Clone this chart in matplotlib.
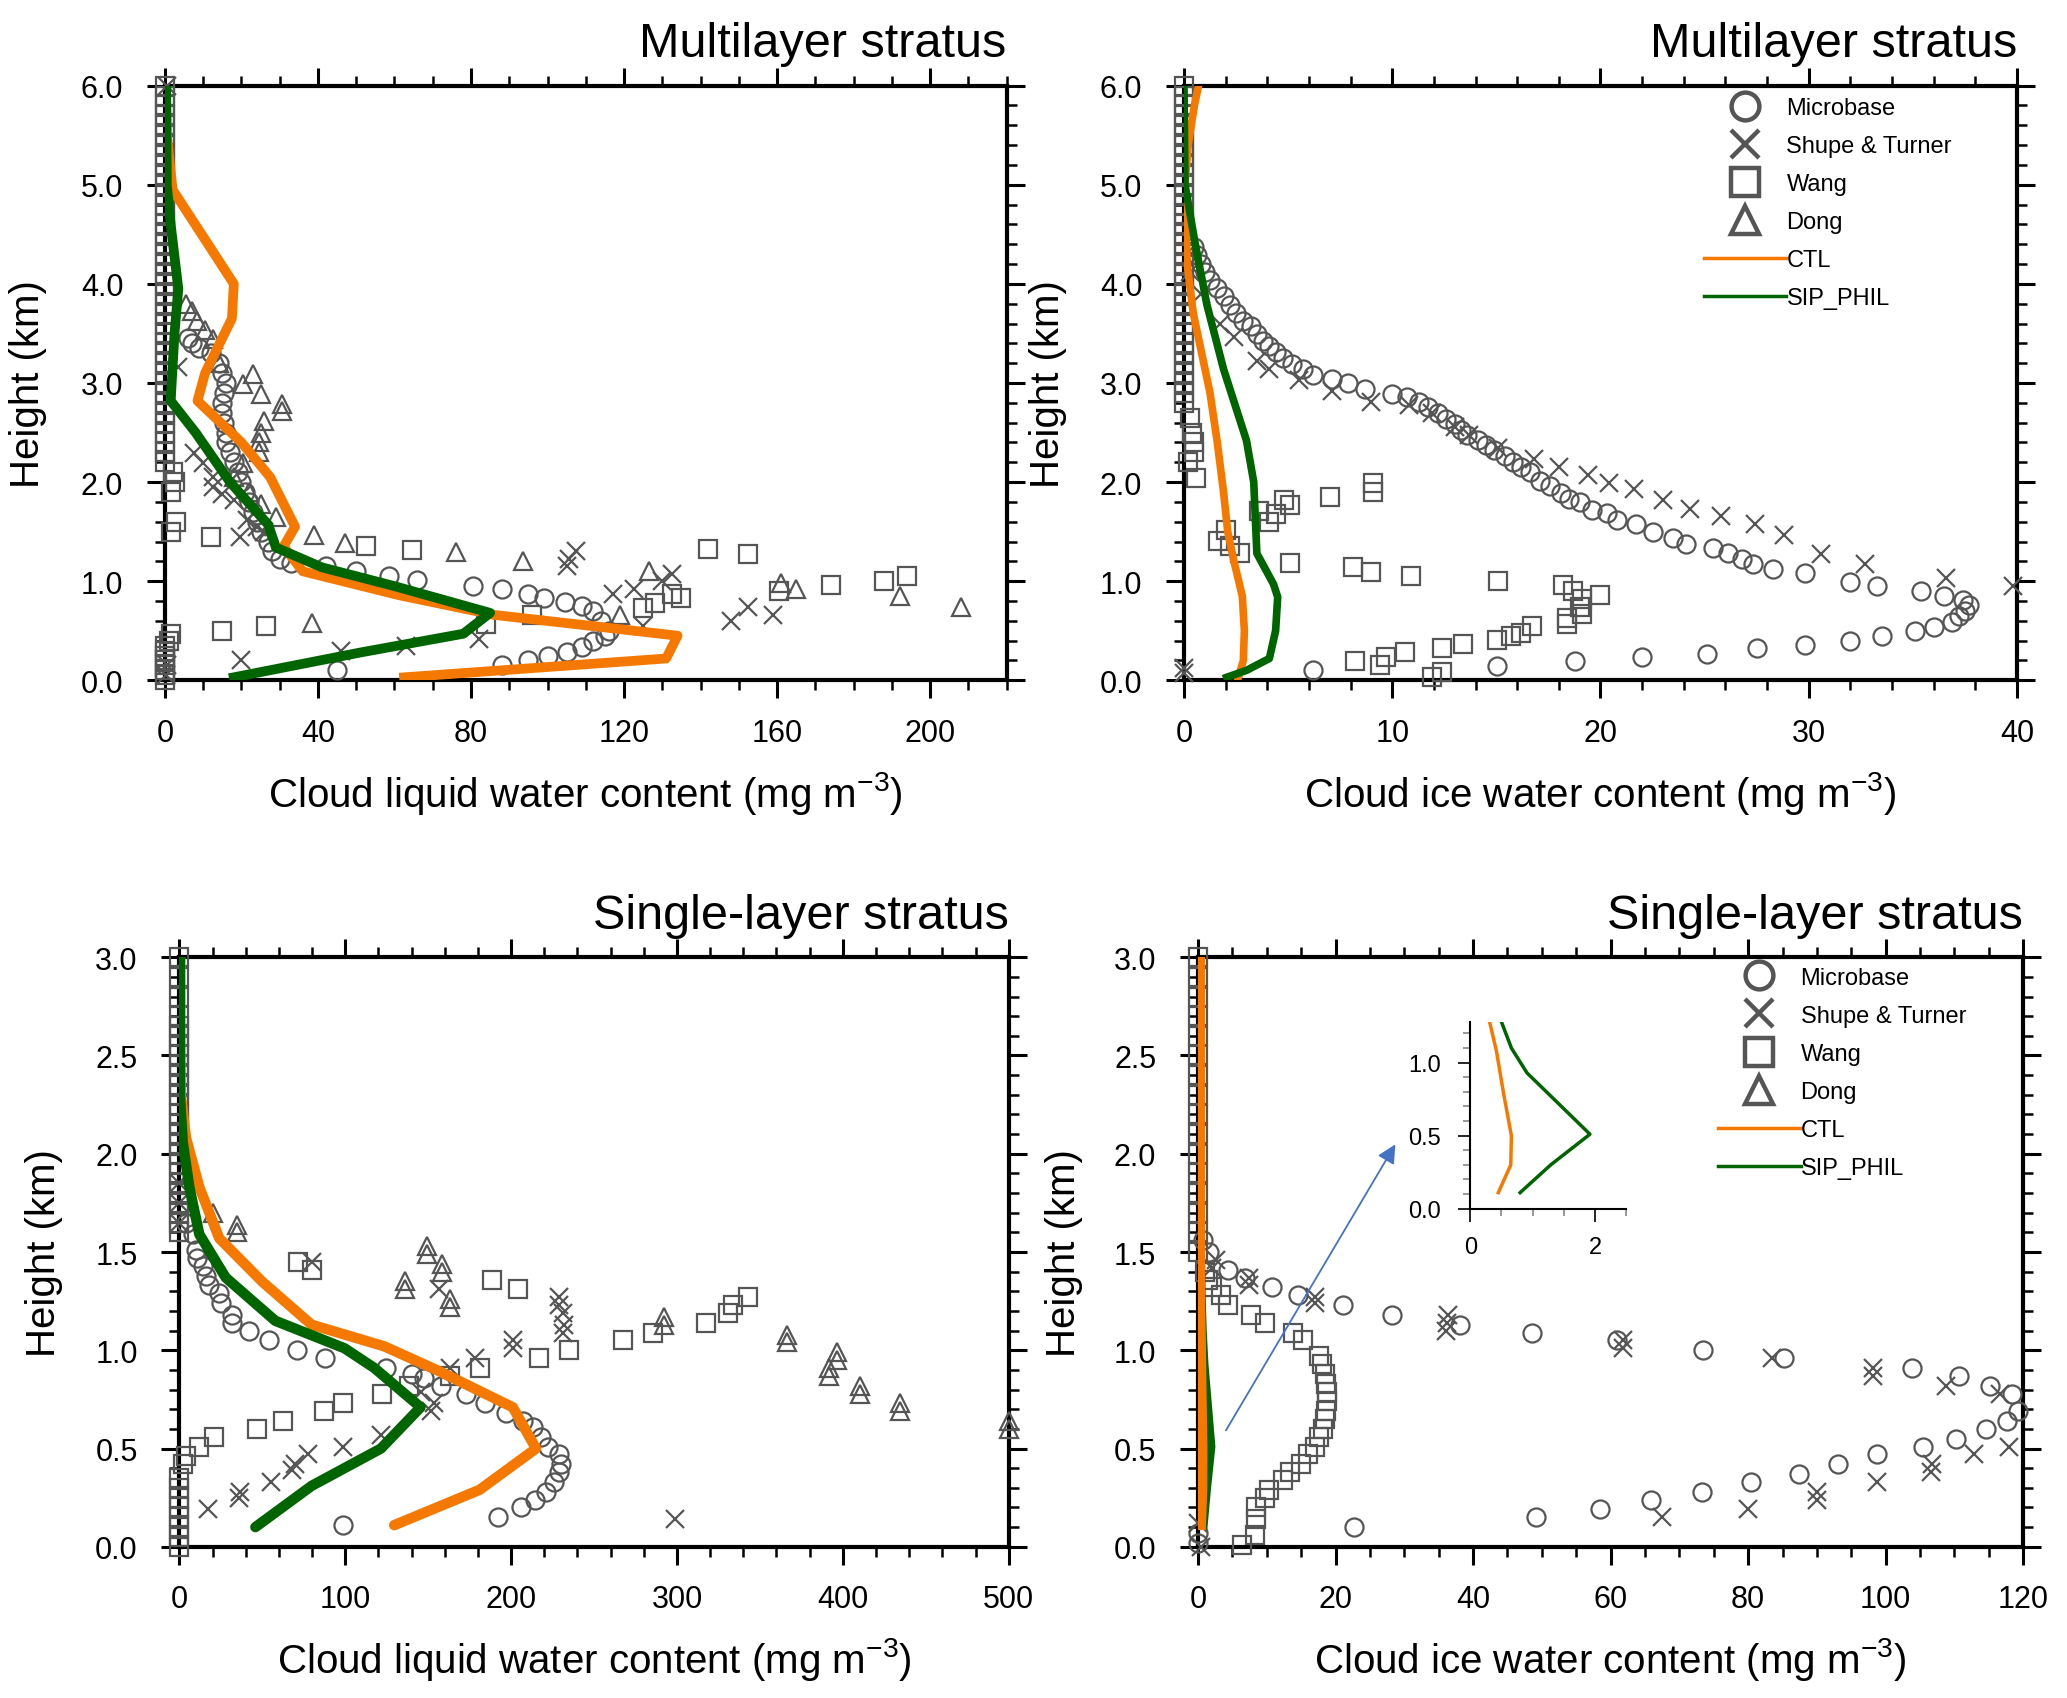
import numpy as np
import matplotlib
matplotlib.use('Agg')
import matplotlib.pyplot as plt
from matplotlib.ticker import MultipleLocator, FormatStrFormatter
from matplotlib.lines import Line2D

plt.rcParams['font.family'] = ['Liberation Sans', 'DejaVu Sans']
plt.rcParams['mathtext.default'] = 'regular'

GRAY = '#555555'
ORANGE = '#F57900'
GREEN = '#006400'
BLUE = '#4472C4'

########################## Multilayer, liquid ##########################
tl_ctl_x = [62.5, 131, 134, 86, 61, 36, 31, 34, 27.5, 20, 8.5, 10.5, 17.5, 18, 2, 0.5, 0.3]
tl_ctl_z = [0.03, 0.22, 0.45, 0.66, 0.86, 1.1, 1.35, 1.55, 2.05, 2.4, 2.82, 3.1, 3.65, 4.0, 4.95, 5.5, 6.0]
tl_sip_x = [18, 51, 78, 85, 60, 41, 29, 27, 17, 8, 1.5, 2.5, 3.5, 1.5, 0.5, 0.3]
tl_sip_z = [0.03, 0.28, 0.47, 0.68, 0.95, 1.14, 1.34, 1.57, 2.0, 2.5, 2.82, 3.5, 3.95, 4.6, 5.0, 6.0]

tl_circ_x = [45, 88, 95, 100, 105, 109, 112, 115, 116, 114, 112, 109, 104.5, 99, 95, 88, 80.5,
             66, 58.5, 50, 42, 33, 30, 28, 27, 25, 24, 23, 22, 21, 20, 19, 18, 17, 16, 16,
             15.5, 15, 15, 15.5, 16, 15, 14, 12, 9, 7, 6]
tl_circ_z = [0.1, 0.15, 0.2, 0.25, 0.29, 0.34, 0.4, 0.45, 0.5, 0.6, 0.7, 0.75, 0.79, 0.83, 0.87,
             0.92, 0.95, 1.01, 1.05, 1.1, 1.15, 1.18, 1.22, 1.3, 1.4, 1.5, 1.6, 1.7, 1.8, 1.9, 2.0,
             2.1, 2.2, 2.3, 2.4, 2.5, 2.6, 2.7, 2.8, 2.9, 3.0, 3.1, 3.2, 3.3, 3.35, 3.4, 3.45]
tl_shupe_x = [0.5, 0.3, 0.5, 3.5, 7.5, 10, 12.5, 12.5, 15, 18, 19.5, 21.5, 24, 26, 105, 105.5,
              107.5, 117, 122.5, 130, 132.5, 125, 148, 152.5, 159, 82, 63, 46, 20]
tl_shupe_z = [6.0, 0.05, 0.15, 3.16, 2.29, 2.19, 2.05, 1.95, 1.88, 1.82, 1.45, 1.62, 1.55, 1.5,
              1.15, 1.22, 1.3, 0.87, 0.92, 1.0, 1.07, 0.55, 0.6, 0.74, 0.66, 0.42, 0.35, 0.3, 0.2]
tl_wang_x = [0, 0, 0, 0, 0, 0, 0, 0, 0, 0, 0, 0, 0, 0, 0, 0, 0, 0, 0, 0, 0, 0, 0, 0, 0, 0, 0,
             0, 0, 0, 0, 0, 0, 0, 0, 0, 0, 0, 0, 0, 0, 0, 0, 0, 0, 0, 0,
             1.5, 3, 1.5, 2.5, 2, 12, 52.5, 64.5, 142, 152.5, 194, 188, 174, 160.5, 135,
             132.5, 128, 125, 96, 84, 26.5, 15, 1.5, 1]
tl_wang_z = [0.0, 0.05, 0.1, 0.15, 0.2, 0.25, 0.3, 0.35,
             2.2, 2.3, 2.4, 2.5, 2.6, 2.7, 2.8, 2.9, 3.0, 3.1, 3.2, 3.3, 3.4, 3.5, 3.6, 3.7,
             3.8, 3.9, 4.0, 4.1, 4.2, 4.3, 4.4, 4.5, 4.6, 4.7, 4.8, 4.9, 5.0, 5.1, 5.2, 5.3,
             5.4, 5.5, 5.6, 5.7, 5.8, 5.9, 6.0,
             1.5, 1.6, 1.9, 2.0, 2.1, 1.45, 1.36, 1.31, 1.32, 1.27, 1.05, 1.0, 0.96, 0.9,
             0.83, 0.87, 0.78, 0.73, 0.66, 0.57, 0.55, 0.5, 0.47, 0.4]
tl_dong_x = [5.5, 7, 8.5, 10.5, 12.5, 14, 20.5, 23, 25, 30.5, 30.5, 26, 25, 24.5, 24.5, 20.5,
             18, 22, 25, 29, 39, 47, 76, 93.5, 126.5, 161, 165, 192, 208, 119, 38.5]
tl_dong_z = [3.8, 3.73, 3.63, 3.53, 3.44, 3.2, 2.99, 3.09, 2.89, 2.79, 2.72, 2.62, 2.5, 2.4, 2.3,
             2.19, 2.05, 1.9, 1.78, 1.65, 1.47, 1.39, 1.29, 1.2, 1.1, 0.98, 0.92, 0.85, 0.74,
             0.66, 0.58]

############################ Multilayer, ice ###########################
tr_ctl_x = [2.6, 2.85, 2.9, 2.8, 2.4, 2.1, 1.9, 1.6, 1.25, 0.85, 0.45, 0.15, 0.05, 0.2, 0.5, 0.7]
tr_ctl_z = [0.02, 0.2, 0.5, 0.85, 1.2, 1.5, 1.9, 2.4, 2.9, 3.3, 3.7, 4.2, 5.0, 5.4, 5.8, 6.0]
tr_sip_x = [2.05, 3.0, 4.1, 4.4, 4.5, 4.3, 3.5, 3.35, 3.0, 1.9, 1.1, 0.5, 0.05, 0.0]
tr_sip_z = [0.03, 0.1, 0.22, 0.5, 0.84, 0.97, 1.28, 2.0, 2.42, 3.14, 3.79, 4.45, 5.0, 6.0]

tr_circ_x = [6.2, 15.05, 18.8, 22, 25.1, 27.5, 29.8, 32, 33.5, 35.1, 36, 36.9, 37.2, 37.5, 37.7,
             37.4, 36.5, 35.4, 33.3, 32, 29.8, 28.3, 27.3, 26.8, 26.1, 25.4, 24.1, 23.5, 22.5,
             21.7, 20.8, 20.3, 19.6, 19, 18.5, 18.1, 17.6, 17.1, 16.6, 16.2, 15.8, 15.4, 14.9,
             14.5, 14.1, 13.6, 13.3, 13, 12.6, 12.2, 11.7, 11.3, 10.7, 10, 8.7, 7.9, 7.1, 6.2,
             5.7, 5.2, 4.75, 4.4, 4.1, 3.8, 3.5, 3.2, 2.85, 2.5, 2.2, 1.9, 1.6, 1.27, 1.0, 0.8,
             0.63, 0.5]
tr_circ_z = [0.1, 0.14, 0.19, 0.24, 0.27, 0.33, 0.36, 0.4, 0.45, 0.5, 0.54, 0.59, 0.65, 0.7, 0.76,
             0.81, 0.85, 0.9, 0.95, 0.99, 1.08, 1.12, 1.17, 1.22, 1.28, 1.33, 1.38, 1.44, 1.5,
             1.58, 1.62, 1.69, 1.72, 1.8, 1.83, 1.89, 1.96, 2.01, 2.1, 2.15, 2.2, 2.26, 2.32,
             2.37, 2.42, 2.48, 2.53, 2.59, 2.64, 2.7, 2.76, 2.81, 2.86, 2.89, 2.94, 3.0, 3.04,
             3.08, 3.14, 3.19, 3.25, 3.31, 3.37, 3.42, 3.49, 3.57, 3.63, 3.71, 3.79, 3.88, 3.96,
             4.04, 4.12, 4.2, 4.29, 4.37]
tr_shupe_x = [0, 0, 39.8, 36.6, 32.7, 30.6, 28.8, 27.4, 25.8, 24.3, 23, 21.6, 20.4, 19.4, 18,
              16.8, 15.1, 13.7, 13, 11.9, 10.8, 9, 7.1, 5.5, 4.1, 3.5, 2.4, 1.75, 0.8, 0.3]
tr_shupe_z = [0.07, 0.12, 0.95, 1.03, 1.17, 1.27, 1.47, 1.58, 1.66, 1.73, 1.82, 1.93, 1.99, 2.07,
              2.15, 2.23, 2.34, 2.48, 2.56, 2.7, 2.78, 2.81, 2.92, 3.03, 3.14, 3.22, 3.46, 3.6,
              3.9, 4.12]
tr_wang_x = [0, 0, 0, 0, 0, 0, 0, 0, 0, 0, 0, 0, 0, 0, 0, 0, 0, 0, 0, 0, 0, 0, 0, 0, 0, 0, 0,
             0, 0, 0, 0, 0, 0, 0.2, 0.5, 0.5, 0.4, 0.3,
             0.57, 1.65, 2, 2.2, 2.7, 3.6, 4.1, 4.4, 4.8, 5.1, 5.1, 7, 9.1, 9.1, 8.1, 9, 10.9,
             15.1, 18.2, 18.7, 19.1, 20, 19, 19.1, 18.4, 18.4, 16.7, 16.2, 15.7, 15.05, 13.4,
             12.4, 10.6, 9.7, 9.4, 8.2, 11.9, 12.4]
tr_wang_z = [2.8, 2.9, 3.0, 3.1, 3.2, 3.3, 3.4, 3.5, 3.6, 3.7, 3.8, 3.9, 4.0, 4.1, 4.2, 4.3,
             4.4, 4.5, 4.6, 4.7, 4.8, 4.9, 5.0, 5.1, 5.2, 5.3, 5.4, 5.5, 5.6, 5.7, 5.8, 5.9, 6.0,
             2.2, 2.3, 2.4, 2.5, 2.65,
             2.04, 1.41, 1.52, 1.36, 1.28, 1.71, 1.6, 1.68, 1.82, 1.77, 1.18, 1.85, 1.99, 1.9,
             1.14, 1.09, 1.05, 1.0, 0.96, 0.9, 0.82, 0.86, 0.74, 0.67, 0.63, 0.57, 0.55, 0.48,
             0.45, 0.41, 0.37, 0.33, 0.29, 0.24, 0.15, 0.19, 0.03, 0.08]

######################### Single-layer, liquid #########################
bl_ctl_x = [129.5, 181, 215, 201, 155, 123.5, 79.7, 49.8, 24, 12, 4, 0.8, 0.5, 0.5]
bl_ctl_z = [0.11, 0.29, 0.5, 0.71, 0.9, 1.02, 1.13, 1.35, 1.57, 1.83, 2.08, 2.3, 2.6, 3.0]
bl_sip_x = [45.8, 79.7, 121.5, 145.4, 117.5, 99.6, 57.8, 27.9, 12, 6, 2, 0.3, 0.3]
bl_sip_z = [0.1, 0.31, 0.5, 0.71, 0.91, 1.01, 1.15, 1.37, 1.59, 1.83, 2.06, 2.3, 3.0]

bl_circ_x = [98.8, 192, 206, 214.3, 221, 226, 229, 230, 229, 222, 218, 213, 207, 197, 184.5, 173,
             158, 147.4, 140, 124.3, 87.6, 71, 53.8, 41.8, 31.9, 31.9, 25, 23.9, 18, 16, 14,
             10.8, 10, 8, 4]
bl_circ_z = [0.11, 0.15, 0.2, 0.24, 0.28, 0.33, 0.38, 0.42, 0.47, 0.51, 0.56, 0.61, 0.64, 0.68,
             0.73, 0.78, 0.82, 0.86, 0.88, 0.91, 0.96, 1.0, 1.05, 1.1, 1.14, 1.18, 1.24, 1.29,
             1.33, 1.38, 1.43, 1.47, 1.51, 1.59, 1.65]
bl_shupe_x = [17, 35.9, 36.6, 55, 67.7, 69.7, 77.7, 98.4, 121.5, 151.4, 153.4, 145.4, 163.3,
              178.5, 201, 201, 231, 232, 231, 229, 229, 156.6, 79.7, 298.8, 0, 0, 0]
bl_shupe_z = [0.19, 0.25, 0.28, 0.33, 0.39, 0.42, 0.47, 0.51, 0.57, 0.69, 0.73, 0.79, 0.91,
              0.96, 1.01, 1.05, 1.09, 1.13, 1.19, 1.23, 1.27, 1.31, 1.45, 0.14, 1.65, 1.75, 1.85]
bl_wang_x = [0, 0, 0, 0, 0, 0, 0, 0, 0, 0, 0, 0, 0, 0, 0, 0, 0, 0, 0, 0, 0, 0, 0, 0, 0, 0, 0,
             0, 0, 0, 0, 0, 0, 0,
             2, 4, 12, 20.7, 46.6, 62.5, 86.9, 98.8, 122.3, 138.2, 163, 181, 217, 235, 267.7,
             285.7, 317.5, 330.7, 334, 342.6, 188.4, 204, 79.7, 71.7]
bl_wang_z = [0.0, 0.05, 0.1, 0.15, 0.2, 0.25, 0.3, 0.35,
             1.6, 1.7, 1.8, 1.9, 2.0, 2.1, 2.2, 2.3, 2.4, 2.5, 2.6, 2.7, 2.8, 2.9, 3.0,
             1.65, 1.75, 1.85, 1.95, 2.05, 2.15, 2.25, 2.35, 2.45, 2.55, 2.65,
             0.42, 0.46, 0.51, 0.56, 0.6, 0.64, 0.69, 0.73, 0.78, 0.82, 0.87, 0.91, 0.96, 1.0,
             1.05, 1.09, 1.14, 1.19, 1.23, 1.27, 1.36, 1.31, 1.41, 1.45]
bl_dong_x = [20, 35, 35, 149.4, 149.4, 158.6, 158.6, 136.3, 136.3, 163.3, 163.3, 292, 292,
             366.5, 366.5, 396.4, 396.4, 391.6, 391.6, 410.4, 410.4, 434.3, 434.3, 500, 500]
bl_dong_z = [1.7, 1.6, 1.64, 1.49, 1.53, 1.4, 1.44, 1.31, 1.35, 1.22, 1.26, 1.13, 1.17, 1.04,
             1.08, 0.95, 0.99, 0.87, 0.91, 0.78, 0.82, 0.69, 0.73, 0.6, 0.64]

########################### Single-layer, ice ##########################
br_ctl_x = [0.45, 0.65, 0.66, 0.53, 0.42, 0.31, 0.3, 0.3, 0.3]
br_ctl_z = [0.11, 0.3, 0.5, 0.8, 1.08, 1.28, 1.8, 2.4, 3.0]
br_sip_x = [0.8, 1.29, 1.92, 0.91, 0.66, 0.5, 0.3, 0.2, 0.2]
br_sip_z = [0.11, 0.3, 0.51, 0.93, 1.1, 1.28, 1.8, 2.4, 3.0]

br_circ_x = [22.7, 49.1, 58.4, 65.9, 73.3, 80.4, 87.4, 93, 98.8, 105.4, 110.2, 114.6, 117.6,
             119.3, 118.4, 115.2, 110.7, 103.9, 85.2, 73.5, 60.9, 48.6, 38.1, 28.2, 21.1, 14.6,
             10.7, 6.9, 4.3, 1.6, 0.7, 0, 0]
br_circ_z = [0.1, 0.15, 0.19, 0.24, 0.28, 0.33, 0.37, 0.42, 0.47, 0.51, 0.55, 0.6, 0.64, 0.69,
             0.78, 0.82, 0.87, 0.91, 0.96, 1.0, 1.05, 1.09, 1.13, 1.18, 1.23, 1.28, 1.32, 1.37,
             1.41, 1.5, 1.56, 0.02, 0.07]
br_shupe_x = [0.4, 0, 67.5, 80, 90, 90, 98.8, 106.6, 106.8, 112.8, 117.9, 116.7, 108.8, 98.2,
              98.2, 83.4, 61.8, 61.8, 36, 36.2, 36.3, 17, 17, 7.4, 7.4, 2.1, 2.6]
br_shupe_z = [0.0, 0.12, 0.15, 0.19, 0.24, 0.28, 0.33, 0.38, 0.42, 0.47, 0.51, 0.78, 0.82, 0.87,
              0.91, 0.96, 1.01, 1.05, 1.1, 1.14, 1.18, 1.24, 1.27, 1.33, 1.37, 1.42, 1.46]
br_wang_x = [6.4, 8.3, 8.5, 8.5, 9.8, 10.3, 12.4, 13.4, 15, 16, 17, 17.6, 18.2, 18.4, 18.6, 18.7,
             18.7, 18.6, 18.4, 18.1, 17.6, 15.2, 13.8, 9.8, 7.7, 4.3, 3.4, 2.1, 1.4, 1,
             0, 0, 0, 0, 0, 0, 0, 0, 0, 0, 0, 0, 0, 0, 0, 0]
br_wang_z = [0.01, 0.06, 0.14, 0.2, 0.25, 0.29, 0.34, 0.38, 0.42, 0.47, 0.51, 0.56, 0.6, 0.65,
             0.69, 0.74, 0.79, 0.83, 0.88, 0.93, 0.97, 1.05, 1.09, 1.14, 1.18, 1.23, 1.28, 1.32,
             1.36, 1.4, 1.5, 1.6, 1.7, 1.8, 1.9, 2.0, 2.1, 2.2, 2.3, 2.4, 2.5, 2.6, 2.7, 2.8,
             2.9, 3.0]

obs_names = ['Microbase', 'Shupe & Turner', 'Wang', 'Dong']
obs_markers = ['o', 'x', 's', '^']


def style_axes(ax, xmax, xmajor, xminor, zmax, zmajor, zminor):
  ax.set_xlim(0, xmax)
  ax.set_ylim(0, zmax)
  ax.xaxis.set_major_locator(MultipleLocator(xmajor))
  ax.xaxis.set_minor_locator(MultipleLocator(xminor))
  ax.yaxis.set_major_locator(MultipleLocator(zmajor))
  ax.yaxis.set_minor_locator(MultipleLocator(zminor))
  ax.yaxis.set_major_formatter(FormatStrFormatter('%.1f'))
  for s in ax.spines.values():
    s.set_linewidth(3)
  ax.tick_params(which='both', direction='out', top=True, right=True, width=2.2,
                 labelsize=22)
  ax.tick_params(which='major', length=13)
  ax.tick_params(which='minor', length=7, width=1.8)
  ax.tick_params(axis='x', which='major', pad=14)
  ax.tick_params(axis='y', which='major', pad=17)


def draw_obs(ax, sets):
  for (x, z), m in zip(sets, obs_markers):
    ax.plot(x, z, linestyle='', marker=m, markersize=13, markerfacecolor='none',
            markeredgecolor=GRAY, markeredgewidth=1.6, clip_on=False, zorder=3)


def draw_legend(ax, anchor):
  handles = []
  for m in obs_markers:
    handles.append(Line2D([], [], linestyle='', marker=m, markersize=20, markerfacecolor='none',
                          markeredgecolor=GRAY, markeredgewidth=3.2))
  handles.append(Line2D([], [], color=ORANGE, lw=2.5))
  handles.append(Line2D([], [], color=GREEN, lw=2.5))
  ax.legend(handles, obs_names + ['CTL', 'SIP_PHIL'], loc='upper left', bbox_to_anchor=anchor,
            frameon=False, fontsize=17, handlelength=3.5, handletextpad=0.0,
            labelspacing=0.68, borderaxespad=0.0, borderpad=0.0)


def finish(ax, title, xlabel):
  ax.text(1.0, 1.05, title, transform=ax.transAxes, ha='right', va='baseline', fontsize=35)
  ax.set_xlabel(xlabel, fontsize=29)
  ax.set_ylabel('Height (km)', fontsize=29)
  ax.xaxis.set_label_coords(0.5, -0.15)
  ax.yaxis.set_label_coords(-0.14, 0.5)


fig = plt.figure(figsize=(20.67, 16.99), dpi=100)

lwc_label = 'Cloud liquid water content (mg m$^{-3}$)'
iwc_label = 'Cloud ice water content (mg m$^{-3}$)'

# Multilayer, liquid
ax = fig.add_axes([0.0798, 0.599, 0.4072, 0.350])
draw_obs(ax, [(tl_circ_x, tl_circ_z), (tl_shupe_x, tl_shupe_z), (tl_wang_x, tl_wang_z),
              (tl_dong_x, tl_dong_z)])
ax.plot(tl_ctl_x, tl_ctl_z, color=ORANGE, lw=7, zorder=4)
ax.plot(tl_sip_x, tl_sip_z, color=GREEN, lw=7, zorder=5)
style_axes(ax, 220, 40, 10, 6.0, 1.0, 0.2)
finish(ax, 'Multilayer stratus', lwc_label)

# Multilayer, ice
ax = fig.add_axes([0.5728, 0.599, 0.403, 0.350])
draw_obs(ax, [(tr_circ_x, tr_circ_z), (tr_shupe_x, tr_shupe_z), (tr_wang_x, tr_wang_z),
              ([], [])])
ax.plot(tr_ctl_x, tr_ctl_z, color=ORANGE, lw=5.5, zorder=4)
ax.plot(tr_sip_x, tr_sip_z, color=GREEN, lw=5.5, zorder=5)
style_axes(ax, 40, 10, 2, 6.0, 1.0, 0.2)
finish(ax, 'Multilayer stratus', iwc_label)
draw_legend(ax, (0.624, 0.981))

# Single-layer, liquid
ax = fig.add_axes([0.0868, 0.089, 0.4012, 0.347])
draw_obs(ax, [(bl_circ_x, bl_circ_z), (bl_shupe_x, bl_shupe_z), (bl_wang_x, bl_wang_z),
              (bl_dong_x, bl_dong_z)])
ax.plot(bl_ctl_x, bl_ctl_z, color=ORANGE, lw=7.5, zorder=4, solid_capstyle='round')
ax.plot(bl_sip_x, bl_sip_z, color=GREEN, lw=7.5, zorder=5, solid_capstyle='round')
style_axes(ax, 500, 100, 20, 3.0, 0.5, 0.1)
finish(ax, 'Single-layer stratus', lwc_label)

# Single-layer, ice
ax = fig.add_axes([0.5796, 0.089, 0.3992, 0.347])
draw_obs(ax, [(br_circ_x, br_circ_z), (br_shupe_x, br_shupe_z), (br_wang_x, br_wang_z),
              ([], [])])
ax.plot(br_sip_x, br_sip_z, color=GREEN, lw=6, zorder=4)
ax.plot(br_ctl_x, br_ctl_z, color=ORANGE, lw=7, zorder=5)
style_axes(ax, 120, 20, 5, 3.0, 0.5, 0.1)
finish(ax, 'Single-layer stratus', iwc_label)
draw_legend(ax, (0.63, 0.984))
ax.annotate('', xy=(28.9, 2.06), xytext=(3.85, 0.58),
            arrowprops=dict(arrowstyle='-|>', color=BLUE, lw=1.3, mutation_scale=28))

# Zoomed inset of the single-layer ice profiles
ins = fig.add_axes([0.7113, 0.288, 0.0754, 0.110])
ins.set_facecolor('none')
ins.plot(br_ctl_x[:6], br_ctl_z[:6], color=ORANGE, lw=2.5)
ins.plot(br_sip_x[:6], br_sip_z[:6], color=GREEN, lw=2.5)
ins.set_xlim(0, 2.5)
ins.set_ylim(0, 1.28)
ins.xaxis.set_major_locator(MultipleLocator(2))
ins.xaxis.set_minor_locator(MultipleLocator(0.5))
ins.yaxis.set_major_locator(MultipleLocator(0.5))
ins.yaxis.set_minor_locator(MultipleLocator(0.1))
ins.yaxis.set_major_formatter(FormatStrFormatter('%.1f'))
ins.spines['top'].set_visible(False)
ins.spines['right'].set_visible(False)
for s in ['left', 'bottom']:
  ins.spines[s].set_linewidth(1.5)
ins.tick_params(which='both', direction='out', labelsize=17, width=1.2)
ins.tick_params(which='major', length=9)
ins.tick_params(which='minor', length=5, color='#888888')
ins.tick_params(axis='y', which='major', pad=12)
ins.tick_params(axis='x', which='major', pad=11)

fig.savefig('out.png', dpi=100)
